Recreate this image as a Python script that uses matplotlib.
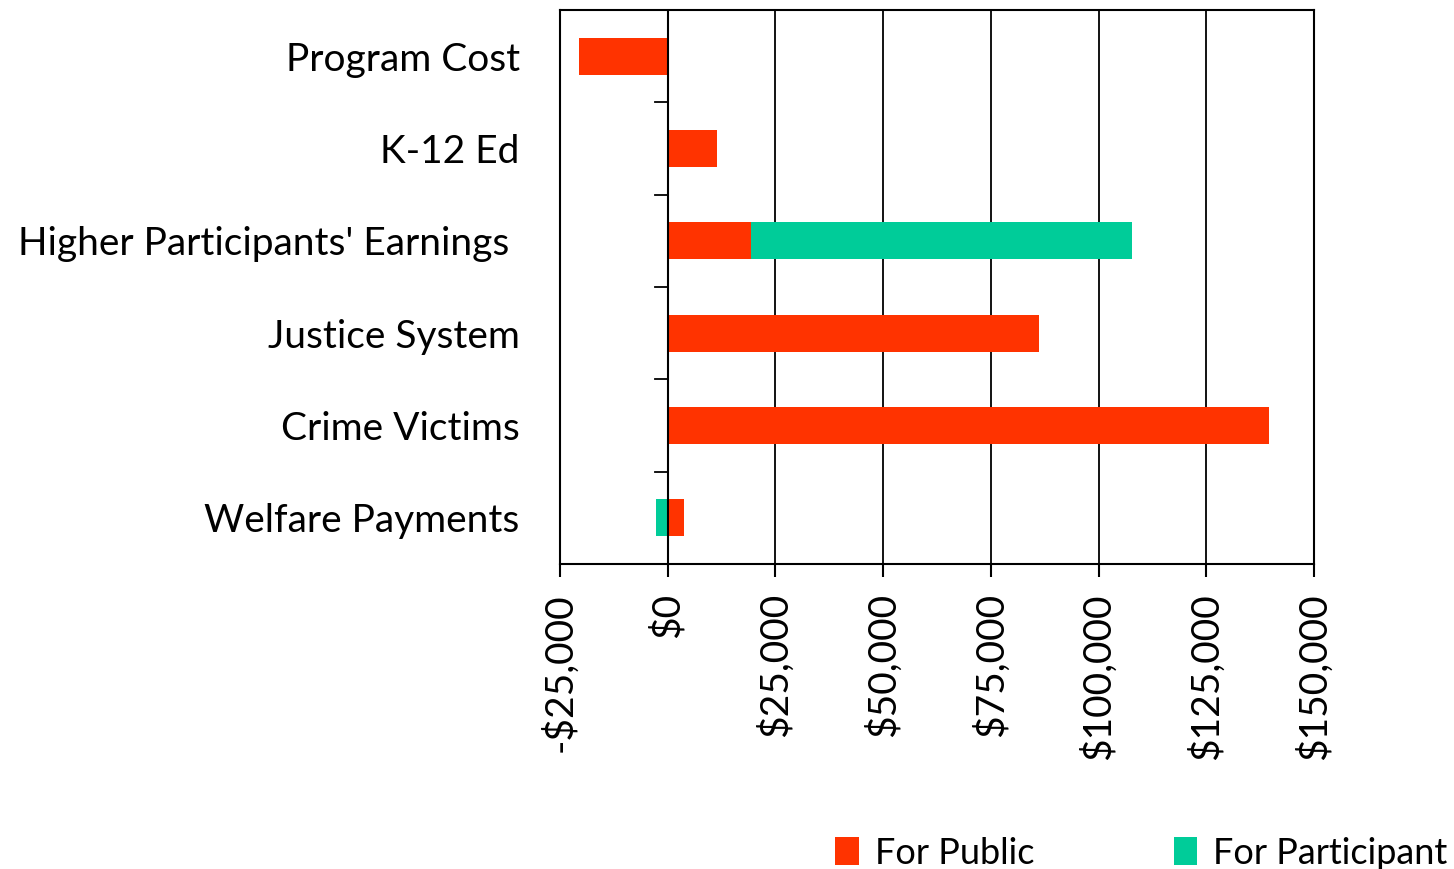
import matplotlib
matplotlib.use("Agg")
import matplotlib.pyplot as plt
from matplotlib.ticker import FuncFormatter, FixedLocator
import numpy as np

plt.rcParams['font.family'] = ['Lato', 'DejaVu Sans']

categories = ["Program Cost", "K-12 Ed", "Higher Participants' Earnings ",
              "Justice System", "Crime Victims", "Welfare Payments"]
for_public = [-20500, 11500, 19400, 86200, 139600, 3800]
for_participant = [0, 0, 88400, 0, 0, -2800]

red = '#FF3300'
green = '#00CC99'

fig = plt.figure(figsize=(14.54, 8.69), dpi=100)
ax = fig.add_axes([560/1454, 1-564/869, (1314-560)/1454, (564-10)/869])

y = np.arange(len(categories))
pub = np.array(for_public)
par = np.array(for_participant)
left_par = np.where(par >= 0, np.maximum(pub, 0), np.minimum(pub, 0))

ax.barh(y, pub, height=0.4, color=red, label='For Public', zorder=2)
ax.barh(y, par, left=left_par, height=0.4, color=green, label='For Participant', zorder=2)

ax.set_xlim(-25000, 150000)
ax.set_ylim(len(categories) - 0.5, -0.5)
ax.xaxis.set_major_locator(FixedLocator(np.arange(-25000, 150001, 25000)))

def fmt(v, pos):
    if v < 0:
        return '-${:,.0f}'.format(-v)
    return '${:,.0f}'.format(v)
ax.xaxis.set_major_formatter(FuncFormatter(fmt))
ax.tick_params(axis='x', rotation=90, labelsize=28, length=9, width=1.5, direction='out', pad=12)
ax.grid(axis='x', color='black', linewidth=1.3, zorder=1)
ax.axvline(0, color='black', linewidth=1.5, zorder=3)

ax.set_yticks(y)
ax.set_yticklabels(categories, fontsize=28)
ax.tick_params(axis='y', length=0, pad=29)
# category boundary ticks at $0
for b in np.arange(0.5, len(categories) - 1, 1):
    ax.plot([-2900, 0], [b, b], color='black', linewidth=1.3, clip_on=False, zorder=3)

for s in ax.spines.values():
    s.set_linewidth(1.5)
    s.set_color('black')

fig.legend(loc='lower right', bbox_to_anchor=(1.018, -0.038), ncol=2, frameon=False,
           fontsize=26, handlelength=0.65, handleheight=0.85, handletextpad=0.45,
           columnspacing=3.85)

fig.savefig('out.png', dpi=100)
